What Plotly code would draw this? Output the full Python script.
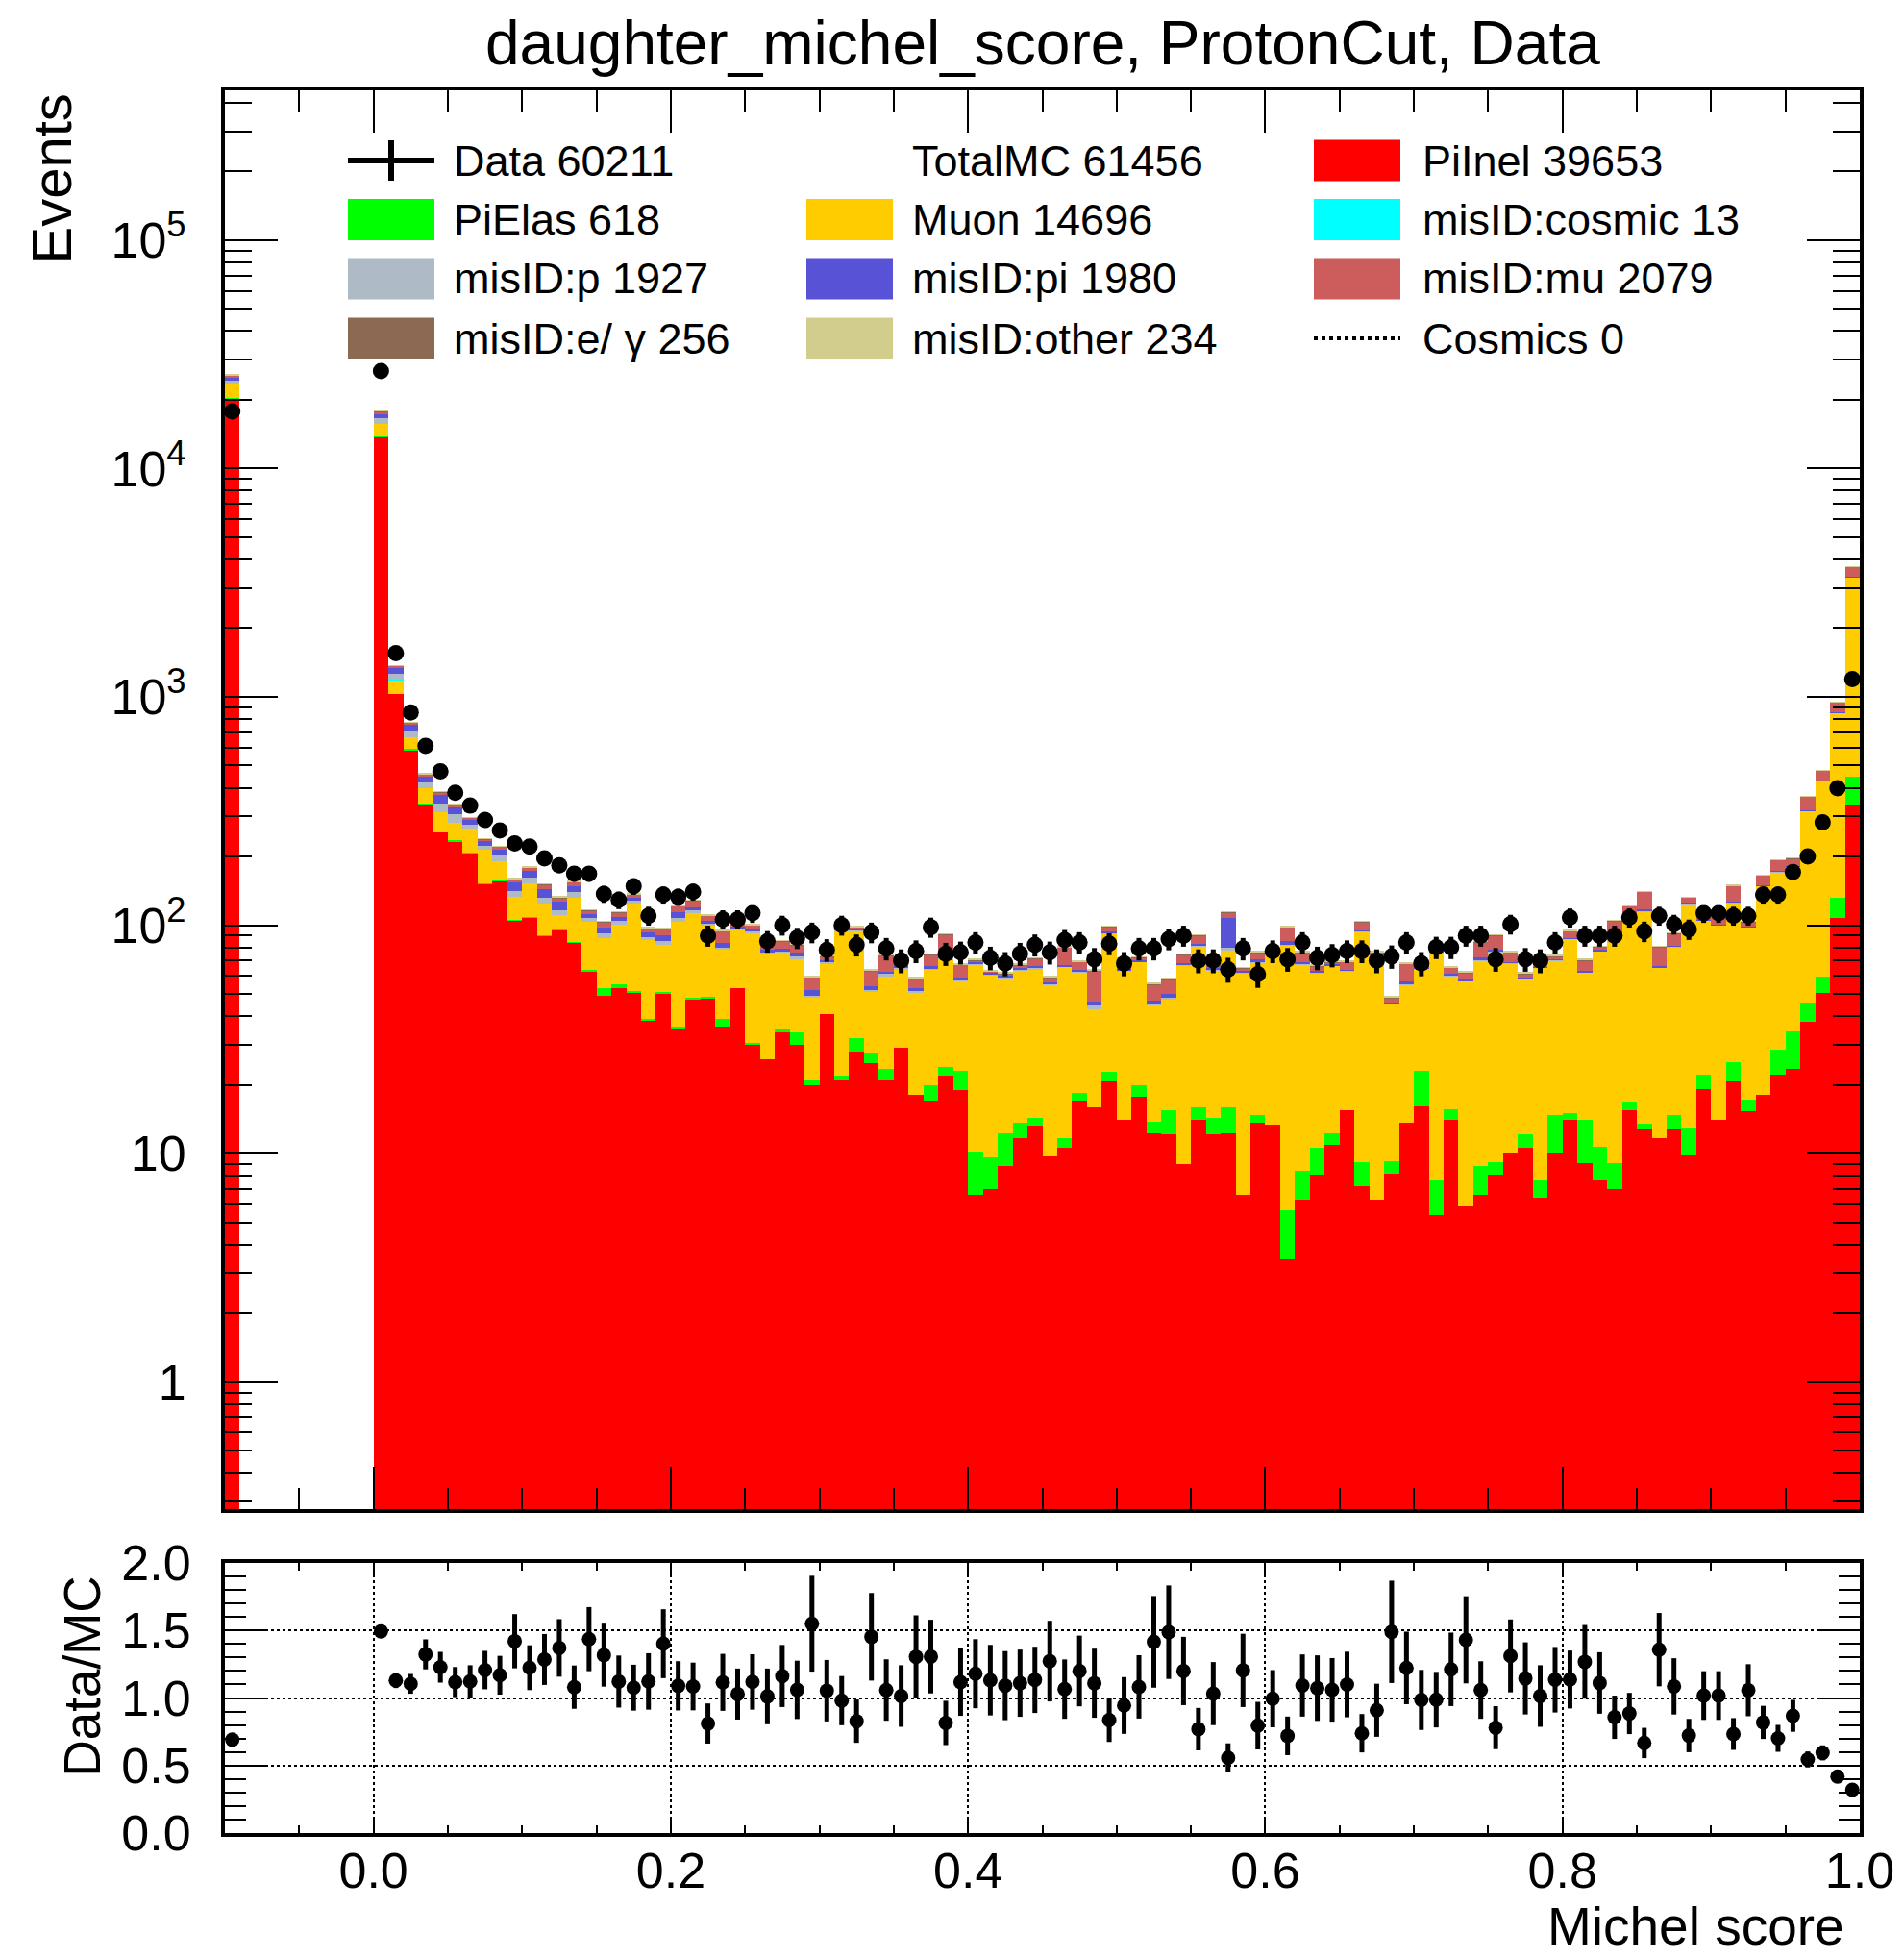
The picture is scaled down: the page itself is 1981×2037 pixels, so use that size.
import numpy as np
import plotly.graph_objects as go

# ---------------- data ----------------
BIN_W = 0.01
# lower bin edges: one filled bin at -0.10, then 0.00 ... 0.99
bin_lo = [-0.10] + [round(0.01 * i, 2) for i in range(100)]

pi_inel = [20270,
    13700, 1033, 582, 339, 255, 233, 207, 152, 156, 105,
    108, 90, 95, 84, 63, 49, 53, 51, 38, 50,
    35, 47, 48, 36, 53, 30, 26, 34, 30, 20,
    41, 21, 28, 25, 21, 29, 18, 17, 22, 19,
    6.6, 7, 8.8, 11.7, 13.3, 9.7, 10.6, 17, 16, 20.7,
    14, 17.8, 12.3, 12.1, 9, 14, 12.1, 12.3, 6.6, 13.6,
    13.4, 3.45, 6.3, 8.1, 10.9, 15.5, 7.2, 6.3, 8.2, 13.7,
    16.1, 5.4, 14, 5.9, 6.6, 8.1, 10, 10.6, 6.4, 10,
    14, 9.1, 7.6, 7, 15.5, 12.7, 11.7, 12.7, 9.8, 19.1,
    14, 20.7, 15.3, 18, 22.2, 23.4, 37.6, 50.6, 108, 339]

pi_elas = [120,
    150, 0.5, 8, 2, 0.5, 3, 0.5, 0.5, 0.5, 0.5,
    0.5, 0.5, 0.5, 0.5, 1, 4, 2, 0.5, 1, 1,
    1, 1, 0.5, 3, 0, 0.5, 0, 1, 4, 1,
    0, 1, 4, 2.4, 2.6, 0, 0, 3, 2, 4,
    3.6, 2.6, 3.5, 1.9, 1, 0, 1.1, 1.5, 0, 2.1,
    0, 2.2, 1.5, 3.4, 0, 2, 2.2, 3.6, 0, 1.1,
    0, 2.2, 2.1, 2.5, 1.4, 0, 2, 0, 1.1, 0,
    6.9, 2.2, 1.7, 0, 2.2, 1.1, 0, 1.6, 1.2, 4.7,
    1, 4.9, 3.1, 2.1, 1.4, 0.8, 0, 2, 3.1, 3.1,
    0, 4.5, 2, 0, 6.3, 10.9, 8.2, 8.8, 24, 108]

muon = [3200,
    1870, 153, 75, 57, 57, 46, 57, 62, 35, 28,
    44, 34, 15, 48, 40, 35, 46, 73, 47, 31,
    68, 65, 51.5, 39, 43, 61.5, 49, 41, 37, 27,
    27, 72, 62, 23.6, 36, 35, 33, 44, 47, 34,
    57, 51, 46, 50, 50, 45, 54, 43.5, 27, 69,
    49, 49, 31, 32, 57.5, 65, 49, 61.6, 55, 54,
    61, 76, 59, 51, 54, 47.5, 84, 65.7, 35.7, 41,
    41, 68.4, 44.3, 51, 61.2, 66.8, 58, 45.8, 57.4, 55.3,
    72, 48, 66.3, 82.9, 93.1, 101.5, 53.3, 65.3, 111.1, 82.8,
    86, 99.8, 80.7, 131, 142.5, 145.7, 270.2, 367.6, 716, 2887]

misid_cosmic = [5,
    5, 3, 0, 0, 0, 0, 0, 0, 0, 0,
    0, 0, 0, 0, 0, 0, 0, 0, 0, 0,
    0, 0, 0, 0, 0, 0, 0, 0, 0, 0,
    0, 0, 0, 0, 0, 0, 0, 0, 0, 0,
    0, 0, 0, 0, 0, 0, 0, 0, 0, 0,
    0, 0, 0, 0, 0, 0, 0, 0, 0, 0,
    0, 0, 0, 0, 0, 0, 0, 0, 0, 0,
    0, 0, 0, 0, 0, 0, 0, 0, 0, 0,
    0, 0, 0, 0, 0, 0, 0, 0, 0, 0,
    0, 0, 0, 0, 0, 0, 0, 0, 0, 0]

misid_p = [750,
    850, 75, 50, 22, 28, 24, 12, 9, 10, 8,
    9, 8, 6, 7, 4, 4, 4, 3, 3, 3,
    4, 3, 2, 2, 1, 2, 1, 1, 2, 1,
    1, 1, 1, 1, 2, 1, 0.5, 0.5, 1, 0.5,
    0.5, 0.5, 0.5, 0.5, 0.5, 0.5, 0.5, 0.5, 1.5, 0.5,
    0.5, 0.5, 0.5, 0.5, 0.5, 1, 0.5, 2, 0.5, 0.5,
    0.5, 0.5, 0.5, 0.5, 0.5, 0.5, 1, 0.5, 0.3, 0.5,
    0.5, 0.5, 0.3, 0.3, 0.5, 0.5, 0.5, 0.3, 0.3, 0.3,
    0.5, 0.5, 0.3, 0.5, 0.5, 1, 0.5, 0.5, 0.5, 0.5,
    0.5, 1, 0.5, 0.5, 0.5, 0.5, 1, 1, 3, 10]

misid_pi = [800,
    650, 75, 40, 28, 30, 22, 12, 9, 13, 12,
    11, 12, 10, 9, 4, 6, 4, 4, 4, 5,
    6, 4, 3, 4, 2, 2, 2, 2, 3, 3,
    1, 2, 1, 2, 1, 2, 1.5, 2, 1, 1.5,
    1.5, 1, 1.5, 1, 1.5, 1, 1, 1.5, 2, 1.5,
    1, 1, 1.5, 2, 1, 1, 1, 28, 1, 1.5,
    0.5, 3, 1, 1, 0.5, 0.5, 1, 0.5, 0.5, 1.5,
    0.5, 0.5, 1, 1, 1.5, 1.5, 0.5, 0.5, 0.5, 0.7,
    0.5, 0.5, 0.5, 0.5, 0.5, 1, 0.5, 0.5, 1, 0.5,
    0.5, 1, 0.5, 0.5, 1, 1, 3, 3, 5, 15]

misid_mu = [400,
    500, 30, 15, 11, 12, 10, 7, 5, 6, 5,
    6, 6, 5, 6, 4, 5, 5, 5, 4, 6,
    7, 8, 5, 10, 3, 4, 5, 6, 6, 7,
    3, 4, 2, 9, 11, 1, 5, 7.5, 18, 8,
    1, 0.5, 1, 1.5, 5, 2.5, 12.5, 5, 16.5, 4.5,
    6.5, 1.5, 8, 7.5, 6, 7, 2, 6.5, 1.5, 5,
    1, 12.5, 7, 3, 1.5, 5, 8, 3, 2.2, 11,
    3, 3, 3.7, 3.7, 12, 12, 7, 2.2, 2.2, 2,
    6, 7, 2.2, 11, 10, 23, 14, 11, 6.5, 4,
    9, 22, 4, 15, 20.5, 14.5, 46, 43, 95, 371]

misid_egamma = [100,
    80, 3, 2, 1, 1, 1, 1, 1, 1, 1,
    1, 1, 1, 0.5, 0.5, 0.5, 0.5, 0.5, 0.5, 0.5,
    0.5, 0.5, 0.5, 0.5, 0.5, 0.5, 0.5, 0.5, 0.5, 0.5,
    0.5, 0.5, 0.5, 0.5, 0.5, 0.5, 0.5, 0.5, 0.5, 0.5,
    0.5, 0.5, 0.5, 0.5, 0.5, 0.5, 0.5, 0.5, 0.5, 0.5,
    0.5, 0.5, 0.5, 0.5, 0.5, 0.5, 0.5, 0.5, 0.5, 0.5,
    0.5, 0.5, 0.5, 0.5, 0.5, 0.5, 0.5, 0.5, 0.5, 0.5,
    0.5, 0.5, 0.5, 0.5, 0.5, 0.5, 0.5, 0.5, 0.5, 0.5,
    0.5, 0.5, 0.5, 0.5, 0.5, 0.5, 0.5, 0.5, 0.5, 0.5,
    0.5, 0.5, 0.5, 0.5, 0.5, 0.5, 0.5, 0.5, 0.5, 1]

misid_other = [100,
    70, 2, 2, 1, 1, 1, 1, 1, 1, 1,
    1, 1, 1, 0.5, 0.5, 0.5, 0.5, 0.5, 0.5, 0.5,
    0.5, 0.5, 0.5, 0.5, 0.5, 0.5, 0.5, 0.5, 0.5, 0.5,
    0.5, 0.5, 0.5, 0.5, 0.5, 0.5, 0.5, 0.5, 0.5, 0.5,
    0.5, 0.5, 0.5, 0.5, 0.5, 0.5, 0.5, 0.5, 0.5, 0.5,
    0.5, 0.5, 0.5, 0.5, 0.5, 0.5, 0.5, 0.5, 0.5, 0.5,
    0.5, 0.5, 0.5, 0.5, 0.5, 0.5, 0.5, 0.5, 0.5, 0.5,
    0.5, 0.5, 0.5, 0.5, 0.5, 0.5, 0.5, 0.5, 0.5, 0.5,
    0.5, 0.5, 0.5, 0.5, 0.5, 0.5, 0.5, 0.5, 0.5, 0.5,
    0.5, 0.5, 0.5, 0.5, 0.5, 0.5, 0.5, 0.5, 0.5, 1]

data = [17800,
    26700, 1553, 855, 610, 472, 380, 334, 289, 260, 228,
    221, 196, 183, 168, 168, 137, 129, 148, 110, 136,
    133, 140, 90, 106, 106, 113, 85, 100, 88, 93,
    78, 100, 82, 93, 79, 70, 77, 98, 75, 76,
    84, 72, 68, 75, 82, 76, 86, 84, 71, 83,
    68, 79, 79, 87, 90, 70, 70, 64, 79, 61,
    77, 71, 84, 72, 74, 77, 77, 70, 73, 84,
    68, 80, 80, 90, 90, 71, 101, 71, 70, 84,
    108, 90, 90, 90, 108, 94, 110, 101, 96, 113,
    113, 110, 110, 136, 136, 171, 200, 282, 398, 1197]

# MC sample weight used for the ratio uncertainty (MC statistics)
MC_WEIGHT = 2.5

# legend entries (name, integral) as printed in the reference
legend_names = ["Data", "TotalMC", "PiInel", "PiElas", "Muon", "misID:cosmic",
                "misID:p", "misID:pi", "misID:mu", "misID:e/ \u03b3", "misID:other", "Cosmics"]
legend_totals = [60211, 61456, 39653, 618, 14696, 13, 1927, 1980, 2079, 256, 234, 0]

# ---------------- styling ----------------
FONT = "Liberation Sans, Arial, Helvetica, sans-serif"
W, H = 1981, 2037
components = [
    ("PiInel", pi_inel, "#ff0000"),
    ("PiElas", pi_elas, "#00ff00"),
    ("Muon", muon, "#ffcc00"),
    ("misID:cosmic", misid_cosmic, "#00ffff"),
    ("misID:p", misid_p, "#aebbc6"),
    ("misID:pi", misid_pi, "#5853d6"),
    ("misID:mu", misid_mu, "#cd5c5c"),
    ("misID:e/ \u03b3", misid_egamma, "#8b6952"),
    ("misID:other", misid_other, "#d2cd8c"),
]
legend_colors = {name: col for name, _, col in components}

def px(x):
    return x / W

def py(y):
    return 1 - y / H

fig = go.Figure()

for name, vals, col in components:
    fig.add_trace(go.Bar(
        x=bin_lo, y=vals, width=BIN_W, offset=0,
        marker=dict(color=col, line=dict(width=0)),
        name=name, xaxis="x", yaxis="y", showlegend=False))

data_arr = np.array(data, dtype=float)
mc_tot = np.sum([np.array(v, dtype=float) for _, v, _ in components], axis=0)
x_centers = np.array(bin_lo) + BIN_W / 2

fig.add_trace(go.Scatter(
    x=x_centers, y=data_arr, mode="markers",
    marker=dict(color="black", size=17, symbol="circle"),
    error_y=dict(type="data", array=np.sqrt(data_arr), thickness=5, width=0, color="black"),
    error_x=dict(type="constant", value=BIN_W / 2, thickness=5, width=0, color="black"),
    xaxis="x", yaxis="y", showlegend=False))

ratio = data_arr / mc_tot
ratio_err = ratio * np.sqrt(1.0 / data_arr + MC_WEIGHT / mc_tot)
fig.add_trace(go.Scatter(
    x=x_centers, y=ratio, mode="markers",
    marker=dict(color="black", size=15, symbol="circle"),
    error_y=dict(type="data", array=ratio_err, thickness=5, width=0, color="black"),
    xaxis="x2", yaxis="y2", showlegend=False, cliponaxis=True))

# ---------------- axes ----------------
x_dom = [px(234), px(1935)]
main_minor = [k * 10.0 ** d for d in range(-1, 6) for k in range(2, 10)]
main_minor = [v for v in main_minor if 0.27 < v < 4.5e5]

common_line = dict(showline=True, linecolor="black", linewidth=4, mirror="allticks",
                   zeroline=False, tickcolor="black", tickwidth=2, automargin=False)

fig.update_layout(
    template="none",
    width=W, height=H,
    margin=dict(l=0, r=0, t=0, b=0, pad=0, autoexpand=False),
    paper_bgcolor="white", plot_bgcolor="white",
    barmode="stack", bargap=0, showlegend=False,
    font=dict(family=FONT, color="black"),
    xaxis=dict(domain=x_dom, anchor="y", range=[-0.1, 1.0], showticklabels=False,
               ticks="inside", ticklen=44, tick0=0, dtick=0.2,
               minor=dict(ticks="inside", ticklen=22, dtick=0.05, tick0=0, tickcolor="black", tickwidth=2),
               showgrid=False, **common_line),
    yaxis=dict(domain=[py(1570), py(94)], anchor="x", type="log", range=[-0.557, 5.656],
               tickvals=[1, 10, 100, 1000, 1e4, 1e5],
               ticktext=["1", "10", "10<sup>2</sup>", "10<sup>3</sup>", "10<sup>4</sup>", "10<sup>5</sup>"],
               ticks="inside", ticklen=55, ticklabelstandoff=26,
               tickfont=dict(size=52, family=FONT),
               minor=dict(ticks="inside", ticklen=28, tickvals=main_minor, tickcolor="black", tickwidth=2),
               showgrid=False, **common_line),
    xaxis2=dict(domain=x_dom, anchor="y2", range=[-0.1, 1.0], tick0=0, dtick=0.2,
                tickformat=".1f", ticks="inside", ticklen=14, ticklabelstandoff=-9,
                tickfont=dict(size=52, family=FONT),
                minor=dict(ticks="inside", ticklen=8, dtick=0.05, tick0=0, tickcolor="black", tickwidth=2),
                showgrid=True, gridcolor="black", griddash="dot", gridwidth=2,
                **common_line),
    yaxis2=dict(domain=[py(1907), py(1626)], anchor="x2", range=[0, 2.0], tick0=0, dtick=0.5,
                tickformat=".1f", ticks="inside", ticklen=45, ticklabelstandoff=21,
                tickfont=dict(size=52, family=FONT),
                minor=dict(ticks="inside", ticklen=22, dtick=0.1, tick0=0, tickcolor="black", tickwidth=2),
                showgrid=True, gridcolor="black", griddash="dot", gridwidth=2,
                **common_line),
)

# ---------------- text ----------------
def note(text, x, y, size, xanchor="center", yanchor="middle", angle=0):
    return dict(text=text, x=px(x), y=py(y), xref="paper", yref="paper",
                xanchor=xanchor, yanchor=yanchor, textangle=angle, showarrow=False,
                font=dict(size=size, family=FONT, color="black"))

annotations = [
    note("daughter_michel_score, ProtonCut, Data", 1084.5, 45, 64),
    note("Events", 53, 96, 58, yanchor="top", angle=-90),
    note("Data/MC", 85, 1638, 53, yanchor="top", angle=-90),
    note("Michel score", 1921, 2004, 55, xanchor="right"),
]

# ---------------- legend (3 columns x 4 rows) ----------------
col_sw = [362, 839, 1367]
col_tx = [470, 947, 1478]
row_y = [167, 228.5, 290, 352]
SW_W, SW_H = 90, 43
shapes = []
for i, (name, tot) in enumerate(zip(legend_names, legend_totals)):
    r, c = divmod(i, 3)
    xl, yc = col_sw[c], row_y[r]
    annotations.append(note(f"{name} {tot}", col_tx[c], yc, 45, xanchor="left"))
    if name == "Data":
        shapes.append(dict(type="line", xref="paper", yref="paper", x0=px(xl), x1=px(xl + SW_W),
                           y0=py(yc), y1=py(yc), line=dict(color="black", width=6)))
        shapes.append(dict(type="line", xref="paper", yref="paper", x0=px(xl + SW_W / 2),
                           x1=px(xl + SW_W / 2), y0=py(yc - 21), y1=py(yc + 21),
                           line=dict(color="black", width=6)))
    elif name == "Cosmics":
        shapes.append(dict(type="line", xref="paper", yref="paper", x0=px(xl), x1=px(xl + SW_W),
                           y0=py(yc), y1=py(yc), line=dict(color="black", width=4, dash="dot")))
    elif name in legend_colors:
        shapes.append(dict(type="rect", xref="paper", yref="paper", x0=px(xl), x1=px(xl + SW_W),
                           y0=py(yc + SW_H / 2), y1=py(yc - SW_H / 2),
                           fillcolor=legend_colors[name], line=dict(width=0)))

fig.update_layout(annotations=annotations, shapes=shapes)

fig.write_html("out.html")
